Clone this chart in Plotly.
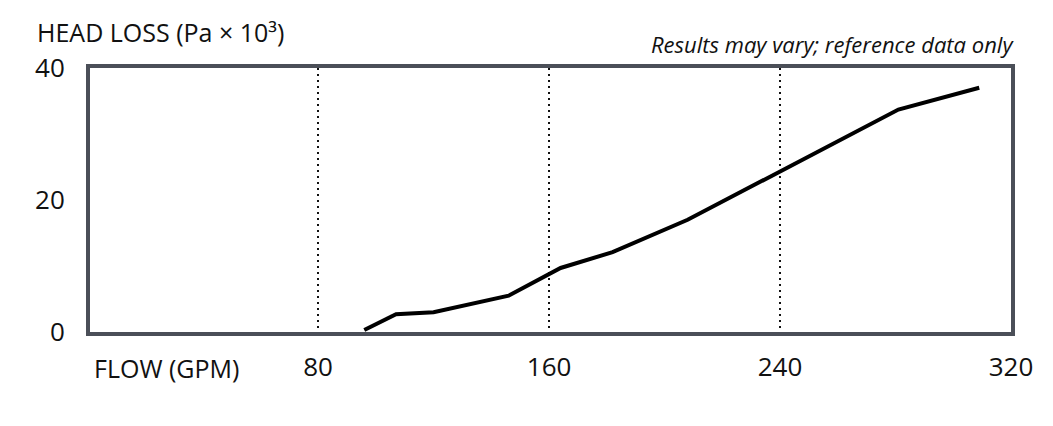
import plotly.graph_objects as go

flow_gpm = [96, 107, 120, 146, 164, 182, 208, 281, 309]
head_loss_kpa = [0.3, 2.7, 3.0, 5.5, 9.7, 12.1, 17.0, 33.7, 37.0]
x_ticks = [80, 160, 240, 320]
y_ticks = [0, 20, 40]

FONT = "Open Sans, Noto Sans, sans-serif"
FRAME = "#4b4f58"
TXT = "#111111"

fig = go.Figure()
fig.add_trace(go.Scatter(
    x=flow_gpm, y=head_loss_kpa, mode="lines",
    line=dict(color="black", width=4),
    showlegend=False, hoverinfo="skip",
))

fig.update_layout(
    width=1053, height=426,
    margin=dict(l=82, r=50, t=60, b=102),
    paper_bgcolor="white", plot_bgcolor="white",
    font=dict(family=FONT, color=TXT),
    xaxis=dict(
        range=[1, 320], tickvals=x_ticks, ticktext=[str(v) for v in x_ticks],
        showgrid=True, gridcolor="#111111", gridwidth=1.6, griddash="2px,4px",
        showline=True, linecolor=FRAME, linewidth=4, mirror=True,
        ticks="", tickfont=dict(size=26, family=FONT, color=TXT),
        ticklabelstandoff=9, zeroline=False, fixedrange=True,
    ),
    yaxis=dict(
        range=[0, 40], tickvals=y_ticks, ticktext=[str(v) for v in y_ticks],
        showgrid=False, showline=True, linecolor=FRAME, linewidth=4, mirror=True,
        ticks="", tickfont=dict(size=26, family=FONT, color=TXT),
        ticklabelstandoff=16, zeroline=False, fixedrange=True,
    ),
    annotations=[
        dict(text="HEAD LOSS (Pa × 10³)", xref="paper", yref="paper",
             x=0, y=1.0, xanchor="left", yanchor="middle", xshift=-54, yshift=36,
             showarrow=False, borderpad=0,
             font=dict(size=25, family=FONT, color=TXT)),
        dict(text="<i>Results may vary; reference data only</i>", xref="paper", yref="paper",
             x=1.0, y=1.0, xanchor="right", yanchor="middle", xshift=4, yshift=24,
             showarrow=False, borderpad=0,
             font=dict(size=22, family=FONT, color=TXT)),
        dict(text="FLOW (GPM)", xref="paper", yref="paper",
             x=0, y=0.0, xanchor="left", yanchor="middle", xshift=3, yshift=-36,
             showarrow=False, borderpad=0,
             font=dict(size=25, family=FONT, color=TXT)),
    ],
)

fig.write_html("out.html")
